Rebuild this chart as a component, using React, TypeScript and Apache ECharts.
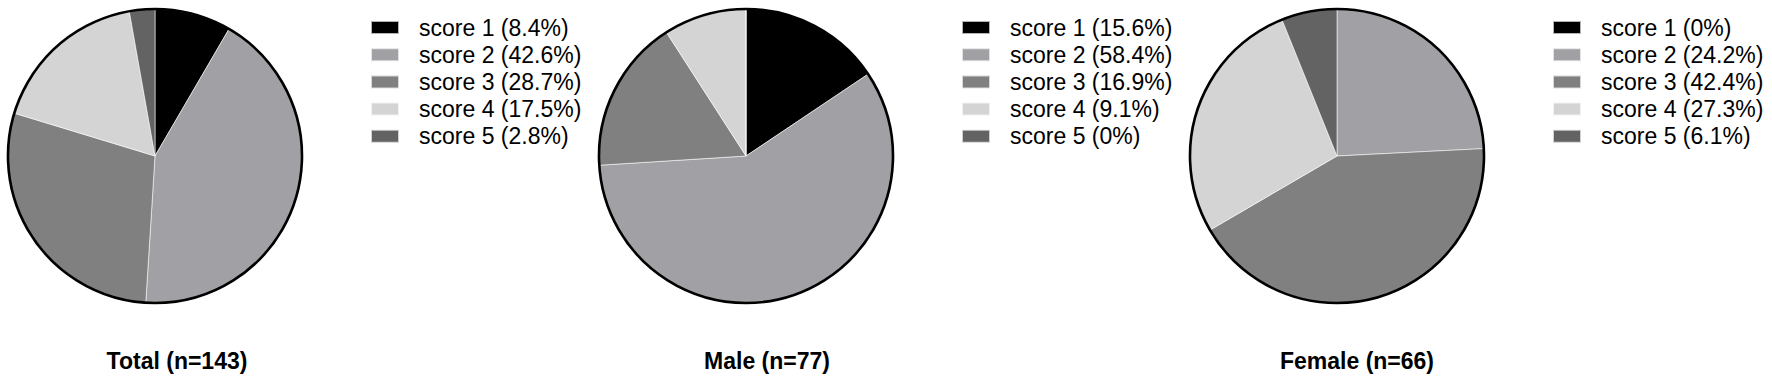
import React, { useEffect, useRef } from "react";
import * as echarts from "echarts";

const categories = ["score 1", "score 2", "score 3", "score 4", "score 5"];
const totalPct = [8.4, 42.6, 28.7, 17.5, 2.8];
const malePct = [15.6, 58.4, 16.9, 9.1, 0];
const femalePct = [0, 24.2, 42.4, 27.3, 6.1];
const groupTitles = ["Total (n=143)", "Male (n=77)", "Female (n=66)"];
const groupValues = [totalPct, malePct, femalePct];

const sliceColors = ["#000000", "#a1a1a5", "#808080", "#d4d4d4", "#636363"];

const FONT = "'Liberation Sans', Arial, Helvetica, sans-serif";
const pieCenterX = [155, 746, 1337];
const pieCenterY = 156;
const pieRadius = 147;
const legendLeft = [365, 956, 1547];
const titleX = [177, 767, 1357];

export default function App() {
  const ref = useRef<HTMLDivElement>(null);
  useEffect(() => {
    if (!ref.current) return;
    const chart = echarts.init(ref.current, undefined, { renderer: "svg" });
    const series: any[] = [];
    const legends: any[] = [];
    groupValues.forEach((vals, gi) => {
      series.push({
        type: "pie",
        name: groupTitles[gi],
        center: [pieCenterX[gi], pieCenterY],
        radius: pieRadius,
        startAngle: 90,
        clockwise: true,
        label: { show: false },
        labelLine: { show: false },
        emphasis: { disabled: true },
        silent: true,
        itemStyle: { borderColor: "rgba(255,255,255,0.7)", borderWidth: 0.8 },
        data: categories.map((c, i) => ({
          name: c,
          value: vals[i],
          itemStyle: { color: sliceColors[i] },
        })),
      });
      series.push({
        type: "pie",
        name: groupTitles[gi] + " outline",
        center: [pieCenterX[gi], pieCenterY],
        radius: pieRadius,
        label: { show: false },
        labelLine: { show: false },
        emphasis: { disabled: true },
        silent: true,
        z: 5,
        itemStyle: { color: "transparent", borderColor: "#000", borderWidth: 2.6 },
        data: [{ name: "outline", value: 1 }],
      });
      legends.push({
        orient: "vertical",
        left: legendLeft[gi],
        top: 11,
        icon: "rect",
        itemWidth: 28,
        itemHeight: 13,
        itemGap: 4.2,
        selectedMode: false,
        data: categories,
        formatter: (name: string) => {
          const idx = categories.indexOf(name);
          return `${name} (${vals[idx]}%)`;
        },
        textStyle: {
          fontFamily: FONT,
          fontSize: 23,
          lineHeight: 23,
          color: "#000",
          padding: [0, 0, 0, 15],
        },
      });
    });
    chart.setOption({
      animation: false,
      backgroundColor: "#fff",
      color: sliceColors,
      legend: legends,
      series,
      graphic: groupTitles.map((t, gi) => ({
        type: "text",
        x: titleX[gi],
        y: 361,
        silent: true,
        style: {
          text: t,
          fontFamily: FONT,
          fontSize: 23,
          fontWeight: "bold",
          fill: "#000",
          textAlign: "center",
          textVerticalAlign: "middle",
        },
      })),
    });
    return () => chart.dispose();
  }, []);
  return (
    <div
      ref={ref}
      style={{ position: "fixed", left: 0, top: 0, width: 1772, height: 383, background: "#fff" }}
    />
  );
}
